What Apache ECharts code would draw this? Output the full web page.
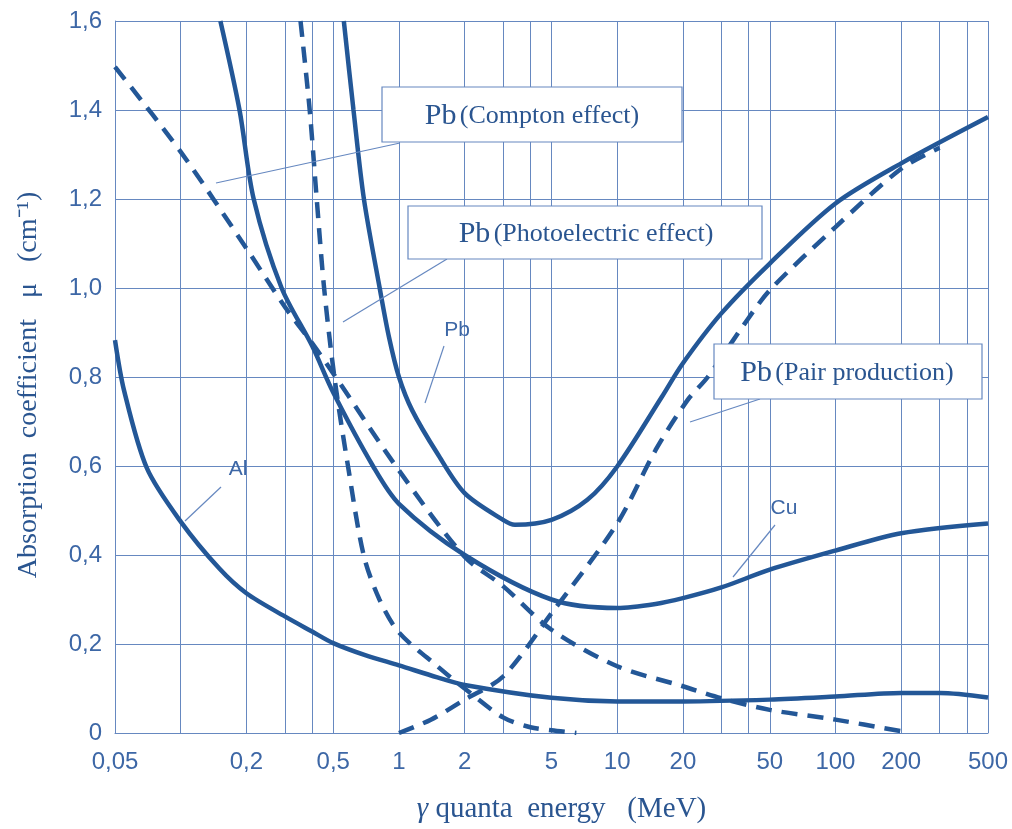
<!DOCTYPE html>
<html>
<head>
<meta charset="utf-8">
<script src="https://cdn.jsdelivr.net/npm/echarts@6/dist/echarts.min.js"></script>
<style>
html,body{margin:0;padding:0;background:#fff;}
#chart{width:1012px;height:829px;}
</style>
</head>
<body>
<div id="chart"></div>
<script>
// ---- data (energy in MeV, absorption coefficient in cm^-1) ----
const xLabelValues = [0.05, 0.2, 0.5, 1, 2, 5, 10, 20, 50, 100, 200, 500];
const xGridValues = [0.05, 0.1, 0.2, 0.3, 0.4, 0.5, 1, 2, 3, 4, 5, 10, 20, 30, 40, 50, 100, 200, 300, 400, 500];
const yTicks = [0, 0.2, 0.4, 0.6, 0.8, 1.0, 1.2, 1.4, 1.6];

const alTotal = [[0.05,0.883],[0.055,0.77],[0.07,0.595],[0.1,0.475],[0.15,0.37],[0.2,0.314],[0.3,0.262],[0.4,0.228],[0.5,0.202],[0.7,0.175],[1,0.152],[1.5,0.125],[2,0.108],[5,0.079],[10,0.071],[20,0.071],[50,0.075],[100,0.082],[200,0.09],[300,0.09],[500,0.08]];
const cuTotal = [[0.152,1.6],[0.186,1.4],[0.216,1.2],[0.29,1.0],[0.4,0.87],[0.5,0.765],[0.76,0.6],[1,0.515],[2,0.40],[5,0.30],[10,0.281],[15,0.29],[20,0.303],[30,0.327],[50,0.367],[100,0.41],[200,0.449],[500,0.471]];
const pbTotal = [[0.559,1.6],[0.619,1.4],[0.691,1.2],[0.816,1.0],[0.9,0.89],[1.0,0.8],[1.15,0.725],[1.5,0.628],[2,0.539],[3,0.479],[3.4,0.468],[5,0.479],[7.3,0.524],[10,0.599],[16,0.755],[20,0.831],[30,0.943],[50,1.055],[100,1.19],[200,1.28],[500,1.384]];
const pbCompton = [[0.05,1.497],[0.1,1.306],[0.2,1.089],[0.3,0.958],[0.4,0.876],[0.5,0.808],[1,0.59],[2,0.396],[3,0.33],[5,0.232],[10,0.15],[20,0.105],[30,0.078],[50,0.052],[100,0.03],[200,0.004]];
const pbPhoto = [[0.354,1.6],[0.39,1.4],[0.42,1.2],[0.454,1.0],[0.506,0.8],[0.584,0.6],[0.689,0.4],[0.814,0.3],[1,0.226],[1.5,0.15],[2,0.1],[3,0.035],[4,0.013],[5,0.006],[6.5,0]];
const pbPair = [[1,0],[1.4,0.03],[2,0.075],[3,0.127],[5,0.269],[10,0.471],[15,0.636],[21,0.748],[26,0.80],[38,0.917],[50,0.995],[100,1.137],[200,1.268],[300,1.315]];

// ---- styles ----
const curveColor = '#235797';
const gridColor = '#6688c0';
const tickColor = '#3d67a6';
const titleColor = '#2a5590';
const serif = '"Liberation Serif", "Times New Roman", serif';
const sans = '"Liberation Sans", Arial, sans-serif';

function fmt(v) {
  const n = +(+v).toPrecision(6);
  return String(n).replace('.', ',');
}

function curve(name, data, dashed) {
  return {
    name: name, type: 'line', data: data, showSymbol: false, symbol: 'none',
    smooth: 0.3, z: 5, silent: true,
    lineStyle: { color: curveColor, width: 4.5, type: dashed ? [16, 10] : 'solid', cap: 'butt' }
  };
}

const chart = echarts.init(document.getElementById('chart'), null, { renderer: 'canvas' });

const option = {
  animation: false,
  backgroundColor: '#ffffff',
  grid: { left: 115, top: 21, width: 873, height: 712, containLabel: false },
  xAxis: {
    type: 'log', logBase: 10, min: 0.05, max: 500,
    axisLine: { show: true, lineStyle: { color: gridColor, width: 1 } },
    axisTick: { show: false },
    splitLine: { show: false },
    minorSplitLine: { show: false },
    axisLabel: {
      customValues: xLabelValues, formatter: fmt, color: tickColor,
      fontSize: 24, fontFamily: sans, margin: 17, hideOverlap: false
    },
    name: '{g|γ} quanta  energy   (MeV)',
    nameLocation: 'middle', nameGap: 62,
    nameTextStyle: {
      color: titleColor, fontSize: 29, fontFamily: serif, padding: [0, 0, 0, 20],
      rich: { g: { fontStyle: 'italic', fontSize: 29, fontFamily: serif, color: titleColor } }
    }
  },
  yAxis: {
    type: 'value', min: 0, max: 1.6, interval: 0.2,
    axisLine: { show: true, lineStyle: { color: gridColor, width: 1 } },
    axisTick: { show: false },
    splitLine: { show: true, lineStyle: { color: gridColor, width: 1 } },
    axisLabel: {
      formatter: function (v) { return v === 0 ? '0' : (+v).toFixed(1).replace('.', ','); },
      color: tickColor, fontSize: 24, fontFamily: sans, margin: 13
    },
    name: 'Absorption  coefficient   μ   (cm⁻¹)',
    nameLocation: 'middle', nameRotate: 90, nameGap: 72,
    nameTextStyle: { color: titleColor, fontSize: 28, fontFamily: serif, padding: [0, 16, 0, 0] }
  },
  series: [
    {
      name: 'grid', type: 'line', data: [], z: 1, silent: true,
      markLine: {
        silent: true, symbol: ['none', 'none'], animation: false,
        label: { show: false },
        lineStyle: { color: gridColor, width: 1, type: 'solid' },
        emphasis: { disabled: true },
        data: xGridValues.map(function (v) { return { xAxis: v }; })
      }
    },
    curve('Al', alTotal, false),
    curve('Cu', cuTotal, false),
    curve('Pb', pbTotal, false),
    curve('Pb (Compton effect)', pbCompton, true),
    curve('Pb (Photoelectric effect)', pbPhoto, true),
    curve('Pb (Pair production)', pbPair, true)
  ],
  graphic: [
    // leader lines
    { type: 'line', z: 20, shape: { x1: 400, y1: 143, x2: 216, y2: 183 }, style: { stroke: gridColor, lineWidth: 1.2 } },
    { type: 'line', z: 20, shape: { x1: 447, y1: 259, x2: 343, y2: 322 }, style: { stroke: gridColor, lineWidth: 1.2 } },
    { type: 'line', z: 20, shape: { x1: 760, y1: 399, x2: 690, y2: 422 }, style: { stroke: gridColor, lineWidth: 1.2 } },
    { type: 'line', z: 20, shape: { x1: 444, y1: 346, x2: 425, y2: 403 }, style: { stroke: gridColor, lineWidth: 1.2 } },
    { type: 'line', z: 20, shape: { x1: 221, y1: 487, x2: 185, y2: 521 }, style: { stroke: gridColor, lineWidth: 1.2 } },
    { type: 'line', z: 20, shape: { x1: 775, y1: 525, x2: 733, y2: 577 }, style: { stroke: gridColor, lineWidth: 1.2 } },
    // boxes
    { type: 'rect', z: 21, shape: { x: 382, y: 87, width: 300, height: 55 }, style: { fill: '#fff', stroke: gridColor, lineWidth: 1.2 } },
    { type: 'rect', z: 21, shape: { x: 408, y: 206, width: 354, height: 53 }, style: { fill: '#fff', stroke: gridColor, lineWidth: 1.2 } },
    { type: 'rect', z: 21, shape: { x: 714, y: 344, width: 268, height: 55 }, style: { fill: '#fff', stroke: gridColor, lineWidth: 1.2 } },
    {
      type: 'text', z: 22, x: 532, y: 116,
      style: { text: '{a|Pb} {b|(Compton effect)}', align: 'center', verticalAlign: 'middle',
        rich: { a: { fontSize: 30, fontFamily: serif, fill: titleColor }, b: { fontSize: 26, fontFamily: serif, fill: titleColor } } }
    },
    {
      type: 'text', z: 22, x: 586, y: 234,
      style: { text: '{a|Pb} {b|(Photoelectric effect)}', align: 'center', verticalAlign: 'middle',
        rich: { a: { fontSize: 30, fontFamily: serif, fill: titleColor }, b: { fontSize: 26, fontFamily: serif, fill: titleColor } } }
    },
    {
      type: 'text', z: 22, x: 847, y: 373,
      style: { text: '{a|Pb} {b|(Pair production)}', align: 'center', verticalAlign: 'middle',
        rich: { a: { fontSize: 30, fontFamily: serif, fill: titleColor }, b: { fontSize: 26, fontFamily: serif, fill: titleColor } } }
    },
    // curve labels
    { type: 'text', z: 22, x: 457, y: 330, style: { text: 'Pb', align: 'center', verticalAlign: 'middle', fontSize: 21, fontFamily: sans, fill: tickColor } },
    { type: 'text', z: 22, x: 238, y: 469, style: { text: 'Al', align: 'center', verticalAlign: 'middle', fontSize: 21, fontFamily: sans, fill: tickColor } },
    { type: 'text', z: 22, x: 784, y: 508, style: { text: 'Cu', align: 'center', verticalAlign: 'middle', fontSize: 21, fontFamily: sans, fill: tickColor } }
  ]
};

chart.setOption(option);
</script>
</body>
</html>
